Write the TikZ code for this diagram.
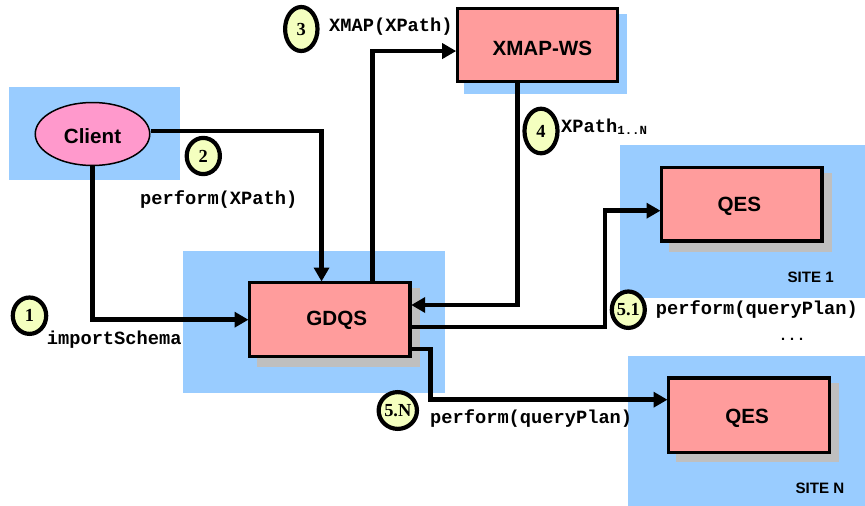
\documentclass[tikz,border=0pt]{standalone}
\usepackage{fontspec}
\setmainfont{Liberation Sans}
\newfontfamily\monof{Liberation Mono}
\newfontfamily\numf{Liberation Serif}
\usetikzlibrary{arrows.meta,shapes.geometric}
\definecolor{panelblue}{HTML}{99CCFF}
\definecolor{boxred}{HTML}{FF9C9C}
\definecolor{clientpink}{HTML}{FF99CC}
\definecolor{shadowgray}{HTML}{BFBFBF}
\definecolor{badgeyellow}{HTML}{F4FFBF}
\newcommand{\placetext}[3]{\raisebox{-#2pt}[0pt][0pt]{\hspace*{#1pt}#3}}
\tikzset{
  panel/.style={fill=panelblue,draw=none},
  shade/.style={fill=shadowgray,draw=none},
  service/.style={draw=black,line width=3.4pt,fill=boxred,rectangle,inner sep=0pt,
    font=\fontsize{20.6pt}{24pt}\selectfont\bfseries},
  flow/.style={draw=black,line width=4.8pt,line join=miter,-{Triangle[length=14pt,width=15pt]},shorten >=-0.5pt},
  badge/.style={draw=black,line width=4.2pt,fill=badgeyellow,ellipse,inner sep=0pt,
    font=\fontsize{18.4pt}{22pt}\numf\bfseries},
  msg/.style={inner sep=0pt,anchor=base west,font=\fontsize{18.7pt}{22pt}\monof\bfseries},
  site/.style={inner sep=0pt,anchor=base,font=\fontsize{15.1pt}{18pt}\selectfont\bfseries}
}
\begin{document}
\begin{tikzpicture}[x=1pt,y=-1pt]
\useasboundingbox (0,0) rectangle (865,506);
% panels
\fill[panel] (9,87) rectangle (180,180);
\fill[panel] (183,251) rectangle (445,393);
\fill[panel] (464,14) rectangle (627,94);
\fill[panel] (620,145) rectangle (865,298);
\fill[panel] (628,356) rectangle (865,506);
% shadows
\fill[shade] (257,288) rectangle (420,367);
\fill[shade] (669,173) rectangle (832,252);
\fill[shade] (676,383) rectangle (839.3,462.3);
% nodes
\node[draw=black,line width=1.5pt,fill=clientpink,ellipse,inner sep=0pt,minimum width=114.5pt,minimum height=63pt,
  font=\fontsize{20.6pt}{24pt}\selectfont\bfseries] (client) at (92.5,134) {\placetext{0}{9.5}{Client}};
\node[service,minimum width=159.9pt,minimum height=72.9pt] (xmap) at (537.35,44.85) {\placetext{10}{10.6}{XMAP-WS}};
\node[service,minimum width=160.3pt,minimum height=73.6pt] (gdqs) at (329.85,319.5) {\placetext{13.7}{6.4}{GDQS}};
\node[service,minimum width=160.3pt,minimum height=73.6pt] (qesa) at (741.85,204.2) {\placetext{-5}{7.6}{QES}};
\node[service,minimum width=160.6pt,minimum height=74.3pt] (qesb) at (749,415.15) {\placetext{-4}{8}{QES}};
% connectors
\coordinate (bendA) at (605,327);
\coordinate (bendB) at (430.7,399.7);
\draw[flow] ([yshift=3pt]client.east) -| ([xshift=-8.3pt]gdqs.north);
\draw[flow] (client.south) |- ([yshift=-0.2pt]gdqs.west);
\draw[flow] ([xshift=42.5pt]gdqs.north) |- ([yshift=-6.2pt]xmap.west);
\draw[flow] ([xshift=-19.6pt]xmap.south) |- ([yshift=14.5pt]gdqs.east);
\draw[flow] ([yshift=-7.5pt]gdqs.east) -- (bendA) |- ([yshift=-6.5pt]qesa.west);
\draw[flow] ([yshift=-29.5pt]gdqs.east) -- (bendB |- 0,349) -- (bendB) -- (bendB -| qesb.west);
% badges
\node[badge,minimum width=33.4pt,minimum height=36.4pt] (b1) at (29.5,315.7) {1};
\node[badge,minimum width=33.2pt,minimum height=36.2pt] (b2) at (203.3,156) {2};
\node[badge,minimum width=32.4pt,minimum height=44pt] (b3) at (301.3,29) {3};
\node[badge,minimum width=33pt,minimum height=44.6pt] (b4) at (541,131) {4};
\node[badge,minimum width=33pt,minimum height=36.4pt] (b51) at (628.3,309.7) {5.1};
\node[badge,minimum width=37.4pt,minimum height=36.8pt] (b5n) at (397.8,410.5) {5.N};
% labels
\node[msg] (l1) at (46.7,344) {importSchema};
\node[msg] (l2) at (140,204.2) {perform(XPath)};
\node[msg] (l3) at (329,31) {XMAP(XPath)};
\node[msg] (l4) at (561,132.2) {XPath\raisebox{-2.7pt}{\fontsize{12.4pt}{14pt}\selectfont 1..N}};
\node[msg] (l51) at (655.7,314) {perform(queryPlan)};
\node[msg] (l5n) at (430,423) {perform(queryPlan)};
\node[msg,anchor=base,font=\fontsize{15pt}{18pt}\monof\bfseries] (dots) at (792,340) {...};
\node[site] (s1) at (810.7,282.5) {SITE 1};
\node[site] (sn) at (820,493.7) {SITE N};
\end{tikzpicture}
\end{document}
